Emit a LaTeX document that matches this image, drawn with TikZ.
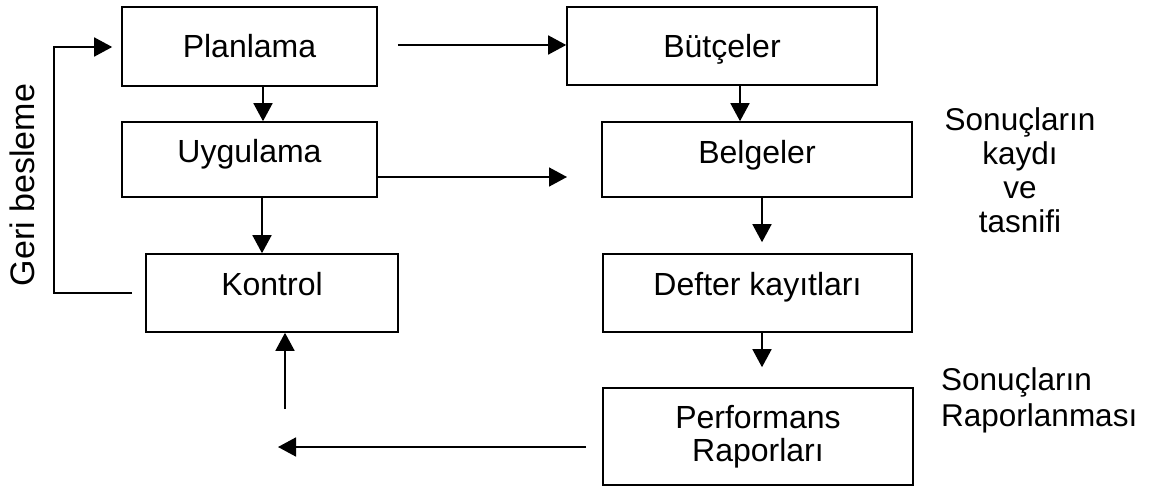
\documentclass[tikz,border=0pt]{standalone}
\usepackage{fontspec}
\setmainfont{Liberation Sans}
\usetikzlibrary{arrows.meta}
\begin{document}
\begin{tikzpicture}[x=1pt,y=-1pt,
  stepbox/.style={draw,line width=1.6pt,inner sep=0pt,align=center,
    font=\fontsize{32}{33}\selectfont,text height=23pt,text depth=0pt},
  arr/.style={line width=1.6pt,-{Triangle[length=18pt,width=19pt]}},
  lbl/.style={inner sep=0pt,font=\fontsize{31.5}{34}\selectfont}]
\useasboundingbox (0,0) rectangle (1152,487);
% boxes
\node[stepbox,minimum width=255pt,minimum height=79pt] (pl) at (249.5,46.5) {Planlama};
\node[stepbox,minimum width=255pt,minimum height=75pt,text depth=18pt] (uy) at (249.5,159.5) {Uygulama};
\node[stepbox,minimum width=252pt,minimum height=78pt,text depth=19pt] (ko) at (272,293) {Kontrol};
\node[stepbox,minimum width=310pt,minimum height=78pt,text height=24pt] (bu) at (722,46) {Bütçeler};
\node[stepbox,minimum width=310pt,minimum height=75pt,text depth=16pt] (be) at (757,159.5) {Belgeler};
\node[stepbox,minimum width=309pt,minimum height=78pt,text depth=19pt] (de) at (757.5,293) {Defter kayıtları};
\node[stepbox,minimum width=310pt,minimum height=97pt,text height=,text depth=] (pe) at (758,436.5) {Performans\\Raporları};
% free ends
\coordinate (bein) at (567,177);
\coordinate (bl) at (278,447);
\coordinate (ku) at (285,409);
\coordinate (fb) at (54,47);
% connectors
\draw[arr] ([xshift=13.5pt]pl.south) -- ([xshift=13.5pt]uy.north);
\draw[arr] ([xshift=12.5pt]uy.south) -- ([xshift=-10pt]ko.north);
\draw[arr] ([xshift=20pt,yshift=1.5pt]pl.east) -- ([yshift=1pt]bu.west);
\draw[arr] ([yshift=-17.5pt]uy.east) -- (bein);
\draw[arr] ([xshift=18pt]bu.south) -- ([xshift=-17pt]be.north);
\draw[arr] ([xshift=5pt]be.south) -- ([xshift=4.5pt,yshift=11pt]de.north);
\draw[arr] ([xshift=4.5pt]de.south) -- ([xshift=4pt,yshift=20pt]pe.north);
\draw[arr] ([xshift=-16pt,yshift=-10.5pt]pe.west) -- (bl);
\draw[arr] (ku) -- ([xshift=13pt]ko.south);
\draw[arr] ([xshift=-13pt]ko.west) -| (fb) -- ([xshift=-9pt,yshift=-0.5pt]pl.west);
% labels
\node[lbl,rotate=90,font=\fontsize{34}{36}\selectfont] (gb) at (22,185) {Geri besleme};
\node[lbl,anchor=north,align=center] (sk) at (1020,107.5) {Sonuçların\\kaydı\\ve\\tasnifi};
\node[lbl,anchor=north west,align=left,font=\fontsize{31.5}{36}\selectfont] (sr) at (941,367.5) {Sonuçların\\Raporlanması};
\end{tikzpicture}
\end{document}
